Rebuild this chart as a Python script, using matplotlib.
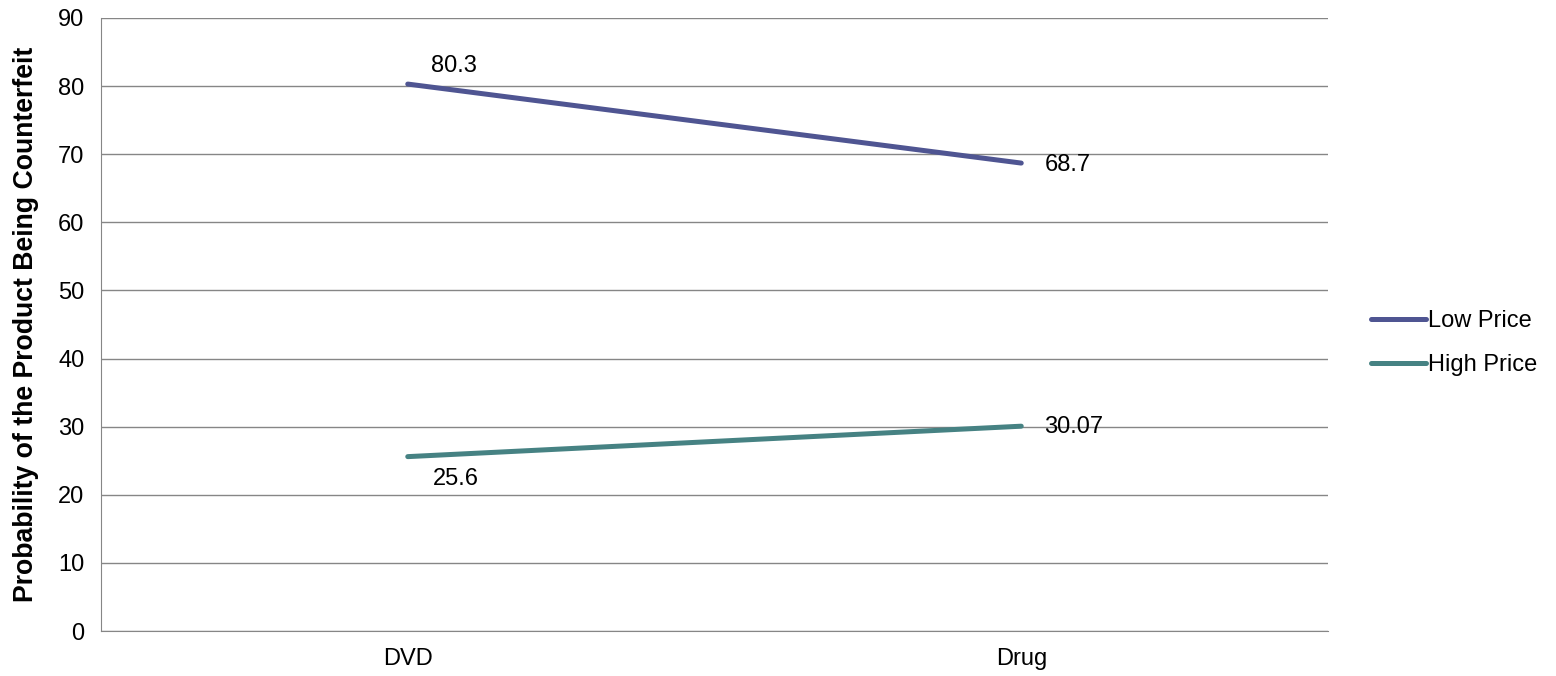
import matplotlib
matplotlib.use("Agg")
import matplotlib.pyplot as plt

plt.rcParams["font.family"] = ["Liberation Sans", "DejaVu Sans"]

categories = ["DVD", "Drug"]
low_price = [80.3, 68.7]
high_price = [25.6, 30.07]
low_labels = ["80.3", "68.7"]
high_labels = ["25.6", "30.07"]
yticks = [0, 10, 20, 30, 40, 50, 60, 70, 80, 90]

LOW_C = "#4F5592"
HIGH_C = "#468283"
GRID_C = "#868686"
FS = 17

fig = plt.figure(figsize=(15.56, 6.76), dpi=100)
ax = fig.add_axes([101 / 1556, 1 - 631 / 676, 1227 / 1556, 613 / 676])

x = list(range(len(categories)))
ax.plot(x, low_price, color=LOW_C, lw=3.6, solid_capstyle="round", label="Low Price", zorder=3)
ax.plot(x, high_price, color=HIGH_C, lw=3.6, solid_capstyle="round", label="High Price", zorder=3)

# value labels sit to the right of each point
offsets_low = [(23, 18), (23, -2)]
offsets_high = [(25, -22), (23, -1)]
for xi, v, t, off in zip(x, low_price, low_labels, offsets_low):
    ax.annotate(t, (xi, v), xytext=off, textcoords="offset pixels",
                ha="left", va="center", fontsize=FS)
for xi, v, t, off in zip(x, high_price, high_labels, offsets_high):
    ax.annotate(t, (xi, v), xytext=off, textcoords="offset pixels",
                ha="left", va="center", fontsize=FS)

ax.set_xlim(-0.5, 1.5)
ax.set_ylim(0, 90)
ax.set_yticks(yticks)
ax.set_xticks(x)
ax.set_xticklabels(categories)
ax.yaxis.grid(True, color=GRID_C, lw=1)
ax.set_axisbelow(True)
for s in ["top", "right"]:
    ax.spines[s].set_visible(False)
for s in ["left", "bottom"]:
    ax.spines[s].set_color(GRID_C)
ax.tick_params(axis="y", length=0, labelsize=FS, pad=12)
ax.tick_params(axis="x", length=0, labelsize=FS, pad=12)
ax.set_ylabel("Probability of the Product Being Counterfeit", fontsize=19.2,
              fontweight="bold", labelpad=14)

fig.legend(loc="center left", bbox_to_anchor=(1362 / 1556, 1 - 343 / 676),
           frameon=False, fontsize=FS, handlelength=2.3, handletextpad=0.1,
           labelspacing=0.95, borderaxespad=0)

fig.savefig("out.png", dpi=100)
